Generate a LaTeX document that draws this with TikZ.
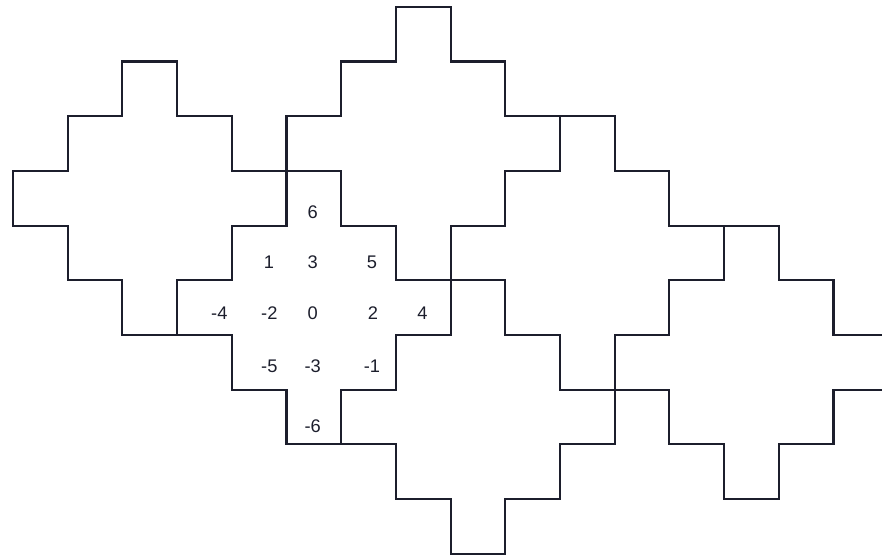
\documentclass[tikz,border=0pt]{standalone}
\usepackage{fontspec}
\setmainfont{Liberation Sans}
\definecolor{ink}{RGB}{28,30,44}
\begin{document}
\begin{tikzpicture}[x=1cm,y=1cm,
  tileline/.style={draw=ink,line width=1.1pt,line join=miter},
  lbl/.style={text=ink,font=\fontsize{9.5}{11}\selectfont,inner sep=0pt},
  leetile/.pic={
    \draw[tileline] (-2,0) -- (-2,1) -- (-1,1) -- (-1,2) -- (0,2) -- (0,3)
      -- (1,3) -- (1,2) -- (2,2) -- (2,1) -- (3,1) -- (3,0) -- (2,0)
      -- (2,-1) -- (1,-1) -- (1,-2) -- (0,-2) -- (0,-1) -- (-1,-1)
      -- (-1,0) -- cycle;
  }]
\useasboundingbox (-5.238,-4.077) rectangle (10.886,6.124);
\clip (-5.238,-4.077) rectangle (10.886,6.124);
\pic at (0,0) {leetile};
\pic at (-3,2) {leetile};
\pic at (2,3) {leetile};
\pic at (5,1) {leetile};
\pic at (3,-2) {leetile};
\pic at (8,-1) {leetile};
\node[lbl] (p6) at (0.479,2.236) {6};
\node[lbl] (p1) at (-0.320,1.322) {1};
\node[lbl] (p3) at (0.479,1.322) {3};
\node[lbl] (p5) at (1.563,1.322) {5};
\node[lbl] (m4) at (-1.229,0.397) {-4};
\node[lbl] (m2) at (-0.314,0.397) {-2};
\node[lbl] (z0) at (0.479,0.397) {0};
\node[lbl] (p2) at (1.581,0.397) {2};
\node[lbl] (p4) at (2.483,0.397) {4};
\node[lbl] (m5) at (-0.314,-0.567) {-5};
\node[lbl] (m3) at (0.479,-0.567) {-3};
\node[lbl] (m1) at (1.563,-0.567) {-1};
\node[lbl] (m6) at (0.479,-1.664) {-6};
\end{tikzpicture}
\end{document}
